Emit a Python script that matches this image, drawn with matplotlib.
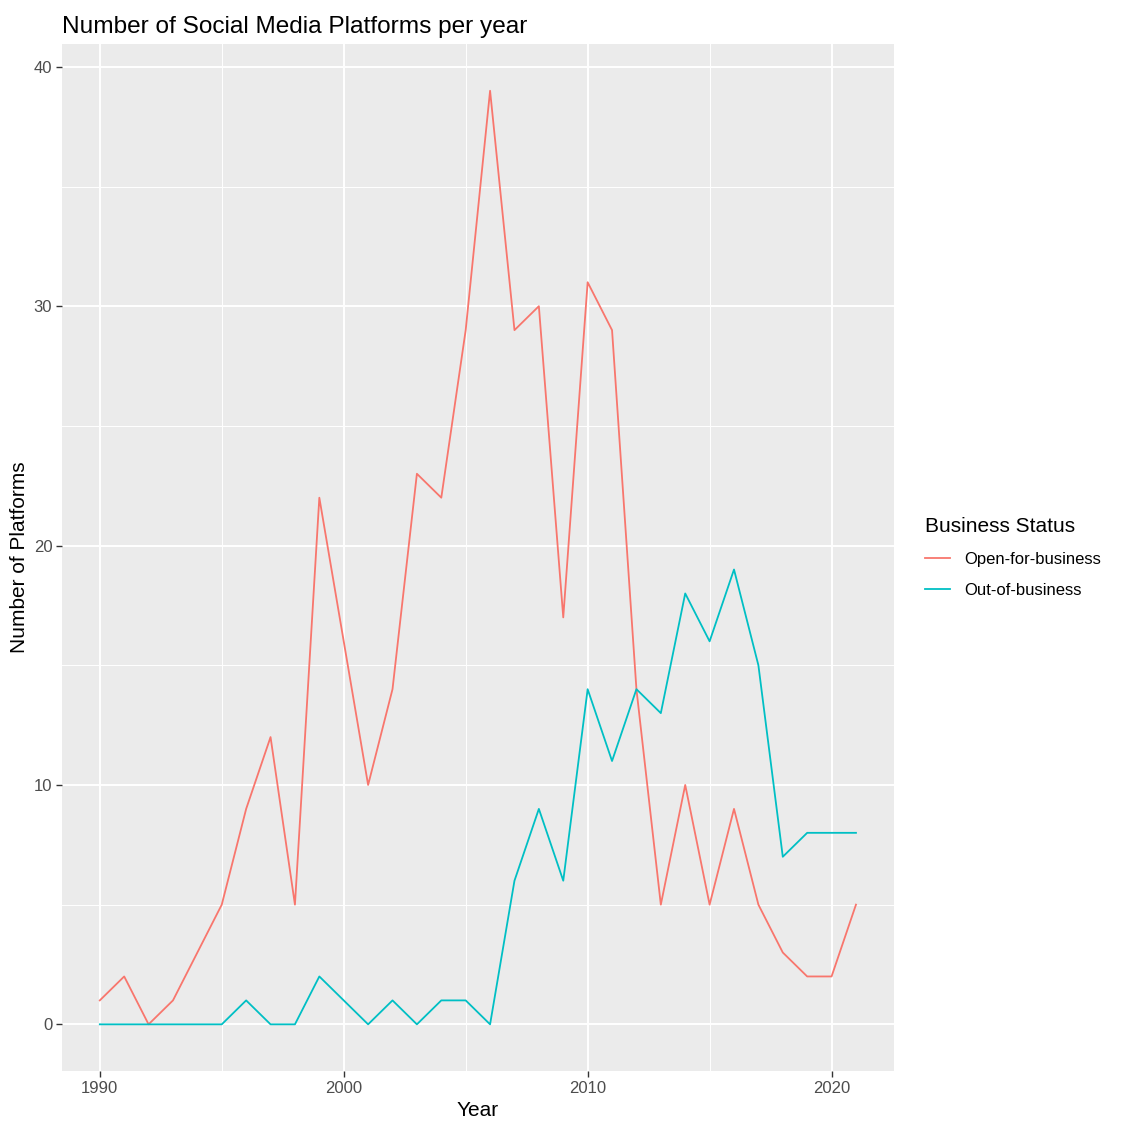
import matplotlib.pyplot as plt
from matplotlib.ticker import MultipleLocator

years = list(range(1990, 2022))
open_for_business = [1, 2, 0, 1, 3, 5, 9, 12, 5, 22, 16, 10, 14, 23, 22, 29,
                     39, 29, 30, 17, 31, 29, 14, 5, 10, 5, 9, 5, 3, 2, 2, 5]
out_of_business = [0, 0, 0, 0, 0, 0, 1, 0, 0, 2, 1, 0, 1, 0, 1, 1,
                   0, 6, 9, 6, 14, 11, 14, 13, 18, 16, 19, 15, 7, 8, 8, 8]
series_names = ["Open-for-business", "Out-of-business"]
series_colors = ["#F8766D", "#00BFC4"]


def main():
    plt.rcParams["font.family"] = ["Liberation Sans", "DejaVu Sans"]
    fig = plt.figure(figsize=(11.21, 11.30), dpi=100)
    ax = fig.add_axes([0.0553, 0.0522, 0.742, 0.9088])
    ax.set_facecolor("#EBEBEB")

    for vals, name, col in zip([open_for_business, out_of_business], series_names, series_colors):
        ax.plot(years, vals, color=col, lw=1.3, label=name)

    span = years[-1] - years[0]
    ax.set_xlim(years[0] - 0.05 * span, years[-1] + 0.05 * span)
    ymax = max(open_for_business)
    ax.set_ylim(-0.05 * ymax, ymax + 0.05 * ymax)

    ax.xaxis.set_major_locator(MultipleLocator(10))
    ax.xaxis.set_minor_locator(MultipleLocator(5))
    ax.yaxis.set_major_locator(MultipleLocator(10))
    ax.yaxis.set_minor_locator(MultipleLocator(5))
    ax.grid(which="major", color="white", lw=1.4)
    ax.grid(which="minor", color="white", lw=0.7)
    ax.set_axisbelow(True)
    for s in ax.spines.values():
        s.set_visible(False)
    ax.tick_params(which="major", length=4, width=1, color="#333333",
                   labelcolor="#4D4D4D", labelsize=12, pad=3)
    ax.tick_params(which="minor", length=0)

    ax.set_xlabel("Year", fontsize=15, color="black", labelpad=4)
    ax.set_ylabel("Number of Platforms", fontsize=15, color="black", labelpad=3)
    ax.set_title("Number of Social Media Platforms per year", loc="left",
                 fontsize=17.6, color="black", pad=8)

    leg = ax.legend(title="Business Status", loc="center left", bbox_to_anchor=(1.019, 0.5),
                    frameon=False, fontsize=12, title_fontsize=15, handlelength=1.5,
                    handletextpad=0.9, labelspacing=0.95)
    leg._legend_box.align = "left"

    fig.savefig("out.png", dpi=100)


if __name__ == "__main__":
    main()
